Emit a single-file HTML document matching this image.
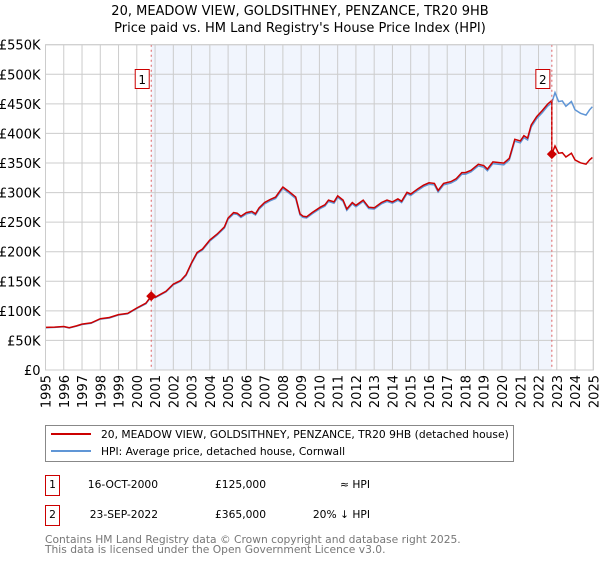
<!DOCTYPE html>
<html><head><meta charset="utf-8"><style>
body{margin:0;background:#fff;font-family:"Liberation Sans","DejaVu Sans",sans-serif;}
svg text{font-family:"DejaVu Sans","Liberation Sans",sans-serif;}
</style></head><body>
<svg id="c" width="600" height="560" viewBox="0 0 600 560" xmlns="http://www.w3.org/2000/svg">
<text x="300" y="15" text-anchor="middle" font-size="13">20, MEADOW VIEW, GOLDSITHNEY, PENZANCE, TR20 9HB</text>
<text x="300" y="32" text-anchor="middle" font-size="13">Price paid vs. HM Land Registry's House Price Index (HPI)</text>
<g id="plot"></g>
<g>
<rect x="45.5" y="425.5" width="468" height="36" fill="#fff" stroke="#888"/>
<line x1="51" y1="434" x2="91" y2="434" stroke="#cc0000" stroke-width="2"/>
<text x="101" y="438" font-size="10.7">20, MEADOW VIEW, GOLDSITHNEY, PENZANCE, TR20 9HB (detached house)</text>
<line x1="51" y1="451" x2="91" y2="451" stroke="#6096d6" stroke-width="2"/>
<text x="101" y="455" font-size="10.7">HPI: Average price, detached house, Cornwall</text>
</g>
<g font-size="10.7">
<rect x="45.5" y="475.5" width="14" height="20" fill="#fff" stroke="#cc0000"/>
<text x="52.5" y="488" text-anchor="middle">1</text>
<text x="158" y="488" text-anchor="end">16-OCT-2000</text>
<text x="266" y="488" text-anchor="end">£125,000</text>
<text x="370" y="488" text-anchor="end">≈ HPI</text>
<rect x="45.5" y="505.5" width="14" height="20" fill="#fff" stroke="#cc0000"/>
<text x="52.5" y="518" text-anchor="middle">2</text>
<text x="158" y="518" text-anchor="end">23-SEP-2022</text>
<text x="266" y="518" text-anchor="end">£365,000</text>
<text x="370" y="518" text-anchor="end">20% ↓ HPI</text>
</g>
<text x="45" y="543" font-size="10.7" fill="#777">Contains HM Land Registry data © Crown copyright and database right 2025.</text>
<text x="45" y="553" font-size="10.7" fill="#777">This data is licensed under the Open Government Licence v3.0.</text>
</svg>
<script>
const hpiYears=[1995,1995.5,1996,1996.3,1996.7,1997,1997.5,1998,1998.5,1999,1999.5,2000,2000.5,2000.79,2001,2001.3,2001.6,2002,2002.4,2002.7,2003,2003.3,2003.6,2004,2004.4,2004.8,2005,2005.3,2005.5,2005.7,2006,2006.3,2006.5,2006.7,2007,2007.3,2007.6,2007.9,2008,2008.3,2008.7,2008.94,2009.1,2009.3,2009.6,2010.05,2010.3,2010.5,2010.8,2011,2011.3,2011.5,2011.8,2012,2012.4,2012.7,2013,2013.4,2013.7,2014,2014.3,2014.5,2014.8,2015,2015.4,2015.7,2016,2016.3,2016.5,2016.8,2017.2,2017.5,2017.8,2018,2018.3,2018.7,2019,2019.2,2019.5,2019.8,2020.1,2020.4,2020.7,2021,2021.2,2021.4,2021.6,2021.9,2022.2,2022.5,2022.73,2022.9,2023.1,2023.3,2023.5,2023.8,2024,2024.3,2024.6,2024.8,2024.95];
const hpiValues=[71.5,72,73,71,74,77,79,86,88,93,95,104,112,124,122,127,132,144,150,160,180,197,203,218,228,240,255,264,263,258,264,266,262,272,281,286,290,303,307,300,290,262,258,257,264,273,277,285,282,292,285,270,281,276,285,273,272,281,285,282,287,283,298,295,304,310,314,313,301,313,316,321,331,331,335,345,343,337,349,348,347,355,387,384,393,389,411,425,435,446,452,469,454,455,446,454,440,434,431,440,445];
const saleYears=[2000.79,2022.73];
const salePrices=[125,365];
const yTicks=[0,50,100,150,200,250,300,350,400,450,500,550];
const xTicks=[1995,1996,1997,1998,1999,2000,2001,2002,2003,2004,2005,2006,2007,2008,2009,2010,2011,2012,2013,2014,2015,2016,2017,2018,2019,2020,2021,2022,2023,2024,2025];
const L=45.5,R=593.3,T=44.7,B=370;
const X=y=>L+(y-1995)/30*(R-L);
const Y=v=>B-v/550*(B-T);
const NS="http://www.w3.org/2000/svg";
const g=document.getElementById('plot');
function mk(t,a){const e=document.createElementNS(NS,t);for(const k in a)e.setAttribute(k,a[k]);g.appendChild(e);return e;}
let e=mk('rect',{x:L,y:T,width:R-L,height:B-T,fill:'#fff'});


e=mk('rect',{x:X(saleYears[0]),y:T,width:X(saleYears[1])-X(saleYears[0]),height:B-T,fill:'#f1f5fd'});


yTicks.forEach(v=>{
 let l=mk('line',{x1:L,x2:R,y1:Y(v),y2:Y(v),stroke:'#ccc'});
 
 
 let t=mk('text',{x:L-5,y:Y(v)+5,'text-anchor':'end','font-size':13});
 t.textContent=v===0?'£0':'£'+v+'K';
 
 
});
xTicks.forEach(yr=>{
 let l=mk('line',{x1:X(yr),x2:X(yr),y1:T,y2:B,stroke:'#ccc'});
 
 
 let t=mk('text',{transform:`translate(${X(yr)+5},${B+5}) rotate(-90)`,'text-anchor':'end','font-size':13});
 t.textContent=yr;
 
 
});
function hpiAt(y){for(let i=1;i<hpiYears.length;i++){if(hpiYears[i]>=y){const f=(y-hpiYears[i-1])/(hpiYears[i]-hpiYears[i-1]);return hpiValues[i-1]+f*(hpiValues[i]-hpiValues[i-1]);}}return hpiValues[hpiValues.length-1];}
let hp=hpiYears.map((y,i)=>X(y).toFixed(1)+','+Y(hpiValues[i]).toFixed(1)).join(' ');
e=mk('polyline',{points:hp,fill:'none',stroke:'#6096d6','stroke-width':1.5});


const r1=salePrices[0]/hpiAt(saleYears[0]);
const r2=salePrices[1]/hpiAt(saleYears[1]+0.001);
let pts=[];
hpiYears.forEach((y,i)=>{ if(y<=saleYears[1]) pts.push([y,hpiValues[i]*r1]); });
pts.push([saleYears[1],hpiAt(saleYears[1])*r1]);
pts.push([saleYears[1],salePrices[1]]);
hpiYears.forEach((y,i)=>{ if(y>saleYears[1]) pts.push([y,hpiValues[i]*r2]); });
e=mk('polyline',{points:pts.map(p=>X(p[0]).toFixed(1)+','+Y(p[1]).toFixed(1)).join(' '),fill:'none',stroke:'#cc0000','stroke-width':1.5});


saleYears.forEach((yr,k)=>{
 let l=mk('line',{x1:X(yr),x2:X(yr),y1:T,y2:B,stroke:'#e06060','stroke-dasharray':'2,3'});
 
 
 let cx=X(yr),cy=Y(salePrices[k]);
 let d=mk('polygon',{points:`${cx},${cy-5} ${cx+5},${cy} ${cx},${cy+5} ${cx-5},${cy}`,fill:'#cc0000'});
 
 
 let bx=X(yr)-16;
 let b=mk('rect',{x:bx,y:69.5,width:14,height:19,fill:'#fff',stroke:'#cc0000'});
 
 
 let t=mk('text',{x:bx+7,y:84,'text-anchor':'middle','font-size':12});
 t.textContent=String(k+1);
 
 
});
e=mk('rect',{x:L,y:T,width:R-L,height:B-T,fill:'none',stroke:'#ccc'});


</script>
</body></html>
